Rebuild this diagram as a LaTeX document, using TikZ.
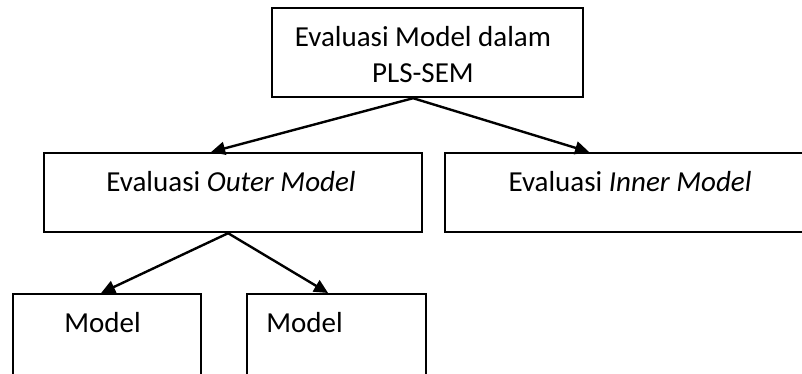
\documentclass[tikz,border=0pt]{standalone}
\usepackage{fontspec}
\setmainfont{Carlito}
\usetikzlibrary{arrows.meta,calc}
\begin{document}
\begin{tikzpicture}[x=1pt,y=-1pt,
  box/.style={draw=black,line width=2.2pt,rectangle,inner sep=0pt,anchor=north west},
  txt/.style={inner sep=0pt,font=\fontsize{29}{36}\selectfont},
  link/.style={line width=2.4pt,-{Triangle[length=14pt,width=13pt]}}]
\useasboundingbox (0,0) rectangle (802,374);
\clip (0,0) rectangle (802,374);
% boxes
\node[box,minimum width=311pt,minimum height=89pt] (top) at (271,7) {};
\node[box,minimum width=378pt,minimum height=79pt] (outer) at (43,152) {};
\node[box,minimum width=372pt,minimum height=79pt] (inner) at (444,152) {};
\node[box,minimum width=188pt,minimum height=120pt] (m1) at (12,293) {};
\node[box,minimum width=179pt,minimum height=120pt] (m2) at (246,293) {};
% labels
\node[txt,anchor=base] (ttop1) at (423,47) {Evaluasi Model dalam};
\node[txt,anchor=base] (ttop2) at (423,83) {PLS-SEM};
\node[txt,anchor=base] (touter) at (231,191) {Evaluasi \textit{Outer Model}};
\node[txt,anchor=base] (tinner) at (630,191) {Evaluasi \textit{Inner Model}};
\node[txt,anchor=base] (tm1) at (102.5,332) {Model};
\node[txt,anchor=base] (tm2) at (304.5,332) {Model};
% connectors
\coordinate (apexA) at ($(top.south)+(-14.5,0)$);
\coordinate (apexB) at ($(outer.south)+(-5,0)$);
\draw[link] (apexA) -- ($(outer.north)+(-22,0)$);
\draw[link] (apexA) -- ($(inner.north)+(-42,0)$);
\draw[link] (apexB) -- ($(m1.north)+(-6,0)$);
\draw[link] (apexB) -- ($(m2.north)+(-8.5,0)$);
\end{tikzpicture}
\end{document}
